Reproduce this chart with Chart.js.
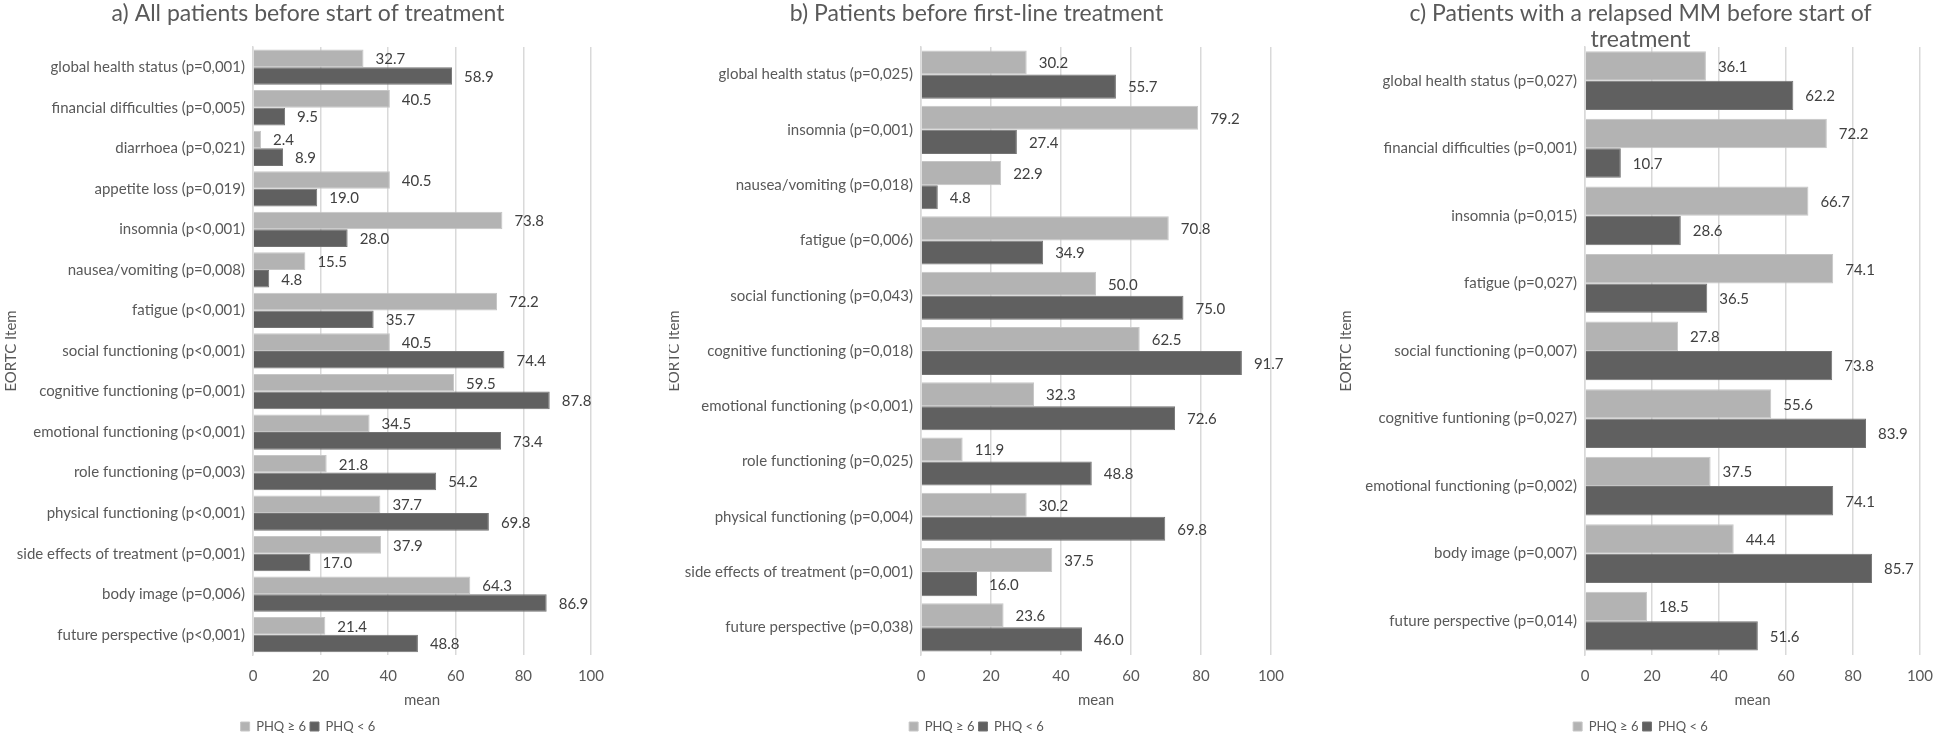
<!DOCTYPE html>
<html><head><meta charset="utf-8">
<script src="https://cdn.jsdelivr.net/npm/chart.js@4.4.0/dist/chart.umd.min.js"></script>
<style>
html,body{margin:0;padding:0;background:#fff;width:1945px;height:735px;overflow:hidden;}
canvas{position:absolute;top:0;}
</style></head><body>
<canvas id="ca" width="616" height="735" style="left:0px"></canvas>
<canvas id="cb" width="627" height="735" style="left:669px"></canvas>
<canvas id="cc" width="606" height="735" style="left:1339px"></canvas>
<script>
// ---------- data ----------
const seriesNames = ['PHQ \u2265 6', 'PHQ < 6'];
const xTicks = [0, 20, 40, 60, 80, 100];
const axisTitleY = 'EORTC Item';
const axisTitleX = 'mean';

const titleA = 'a) All patients before start of treatment';
const catsA = ['global health status (p=0,001)', 'financial difficulties (p=0,005)', 'diarrhoea (p=0,021)',
  'appetite loss (p=0,019)', 'insomnia (p<0,001)', 'nausea/vomiting (p=0,008)', 'fatigue (p<0,001)',
  'social functioning (p<0,001)', 'cognitive functioning (p=0,001)', 'emotional functioning (p<0,001)',
  'role functioning (p=0,003)', 'physical functioning (p<0,001)', 'side effects of treatment (p=0,001)',
  'body image (p=0,006)', 'future perspective (p<0,001)'];
const highA = [32.7, 40.5, 2.4, 40.5, 73.8, 15.5, 72.2, 40.5, 59.5, 34.5, 21.8, 37.7, 37.9, 64.3, 21.4];
const lowA  = [58.9, 9.5, 8.9, 19.0, 28.0, 4.8, 35.7, 74.4, 87.8, 73.4, 54.2, 69.8, 17.0, 86.9, 48.8];

const titleB = 'b) Patients before first-line treatment';
const catsB = ['global health status (p=0,025)', 'insomnia (p=0,001)', 'nausea/vomiting (p=0,018)',
  'fatigue (p=0,006)', 'social functioning (p=0,043)', 'cognitive functioning (p=0,018)',
  'emotional functioning (p<0,001)', 'role functioning (p=0,025)', 'physical functioning (p=0,004)',
  'side effects of treatment (p=0,001)', 'future perspective (p=0,038)'];
const highB = [30.2, 79.2, 22.9, 70.8, 50.0, 62.5, 32.3, 11.9, 30.2, 37.5, 23.6];
const lowB  = [55.7, 27.4, 4.8, 34.9, 75.0, 91.7, 72.6, 48.8, 69.8, 16.0, 46.0];

const titleC = ['c) Patients with a relapsed MM before start of', 'treatment'];
const catsC = ['global health status (p=0,027)', 'financial difficulties (p=0,001)', 'insomnia (p=0,015)',
  'fatigue (p=0,027)', 'social functioning (p=0,007)', 'cognitive funtioning (p=0,027)',
  'emotional functioning (p=0,002)', 'body image (p=0,007)', 'future perspective (p=0,014)'];
const highC = [36.1, 72.2, 66.7, 74.1, 27.8, 55.6, 37.5, 44.4, 18.5];
const lowC  = [62.2, 10.7, 28.6, 36.5, 73.8, 83.9, 74.1, 85.7, 51.6];

// ---------- style ----------
const FONT = 'Lato, "Open Sans", sans-serif';
const TXT = '#595959';
const LIGHT = '#b3b3b3', LIGHT_B = '#c6c6c6';
const DARK = '#606060', DARK_B = '#747474';
const GRID = '#d9d9d9';

const valueLabels = {
  id: 'valueLabels',
  afterDatasetsDraw(chart) {
    const ctx = chart.ctx;
    ctx.save();
    ctx.font = '15px ' + FONT;
    ctx.fillStyle = '#404040';
    ctx.textBaseline = 'middle';
    ctx.textAlign = 'left';
    chart.data.datasets.forEach((ds, i) => {
      chart.getDatasetMeta(i).data.forEach((el, j) => {
        ctx.fillText(ds.data[j].toFixed(1), el.x + 12, el.y + 1);
      });
    });
    ctx.restore();
  }
};

function makeChart(id, title, cats, high, low, yWidth, padRight, titlePad, yTitlePad) {
  new Chart(document.getElementById(id), {
    type: 'bar',
    data: {
      labels: cats,
      datasets: [
        { label: seriesNames[0], data: high, backgroundColor: LIGHT, borderColor: LIGHT_B, borderWidth: 1 },
        { label: seriesNames[1], data: low, backgroundColor: DARK, borderColor: DARK_B, borderWidth: 1 }
      ]
    },
    options: {
      indexAxis: 'y',
      responsive: false,
      animation: false,
      devicePixelRatio: 1,
      categoryPercentage: 0.87,
      barPercentage: 1.0,
      layout: { padding: { left: 0, right: padRight, top: 0, bottom: -8 } },
      plugins: {
        title: {
          display: true, text: title, color: TXT,
          font: { family: FONT, size: 23, weight: 'normal', lineHeight: 1.15 },
          padding: titlePad
        },
        legend: {
          display: true, position: 'bottom',
          labels: { boxWidth: 9, boxHeight: 9, padding: 4, color: TXT, font: { family: FONT, size: 13 } }
        },
        tooltip: { enabled: false }
      },
      scales: {
        x: {
          min: 0, max: 100,
          afterBuildTicks: s => { s.ticks = xTicks.map(v => ({ value: v })); },
          ticks: { color: TXT, font: { family: FONT, size: 15 }, padding: 12 },
          grid: { color: GRID, lineWidth: 1.5, drawTicks: false },
          border: { display: false },
          title: { display: true, text: axisTitleX, color: TXT, font: { family: FONT, size: 15 }, padding: { top: -6, bottom: 7 } }
        },
        y: {
          afterFit: s => { s.width = yWidth; },
          ticks: { color: TXT, font: { family: FONT, size: 15 }, padding: 8, autoSkip: false },
          grid: { display: false, drawTicks: false },
          border: { display: true, color: GRID, width: 1.5 },
          title: { display: true, text: axisTitleY, color: TXT, font: { family: FONT, size: 15 }, padding: { top: yTitlePad, bottom: 0 } }
        }
      }
    },
    plugins: [valueLabels]
  });
}

makeChart('ca', titleA, catsA, highA, lowA, 253, 0, { top: 0, bottom: 20.5 }, 2);
makeChart('cb', titleB, catsB, highB, lowB, 252, 12, { top: 0, bottom: 20.5 }, -4);
makeChart('cc', titleC, catsC, highC, lowC, 246, 3, { top: 0, bottom: -6 }, -2);
</script>
</body></html>
